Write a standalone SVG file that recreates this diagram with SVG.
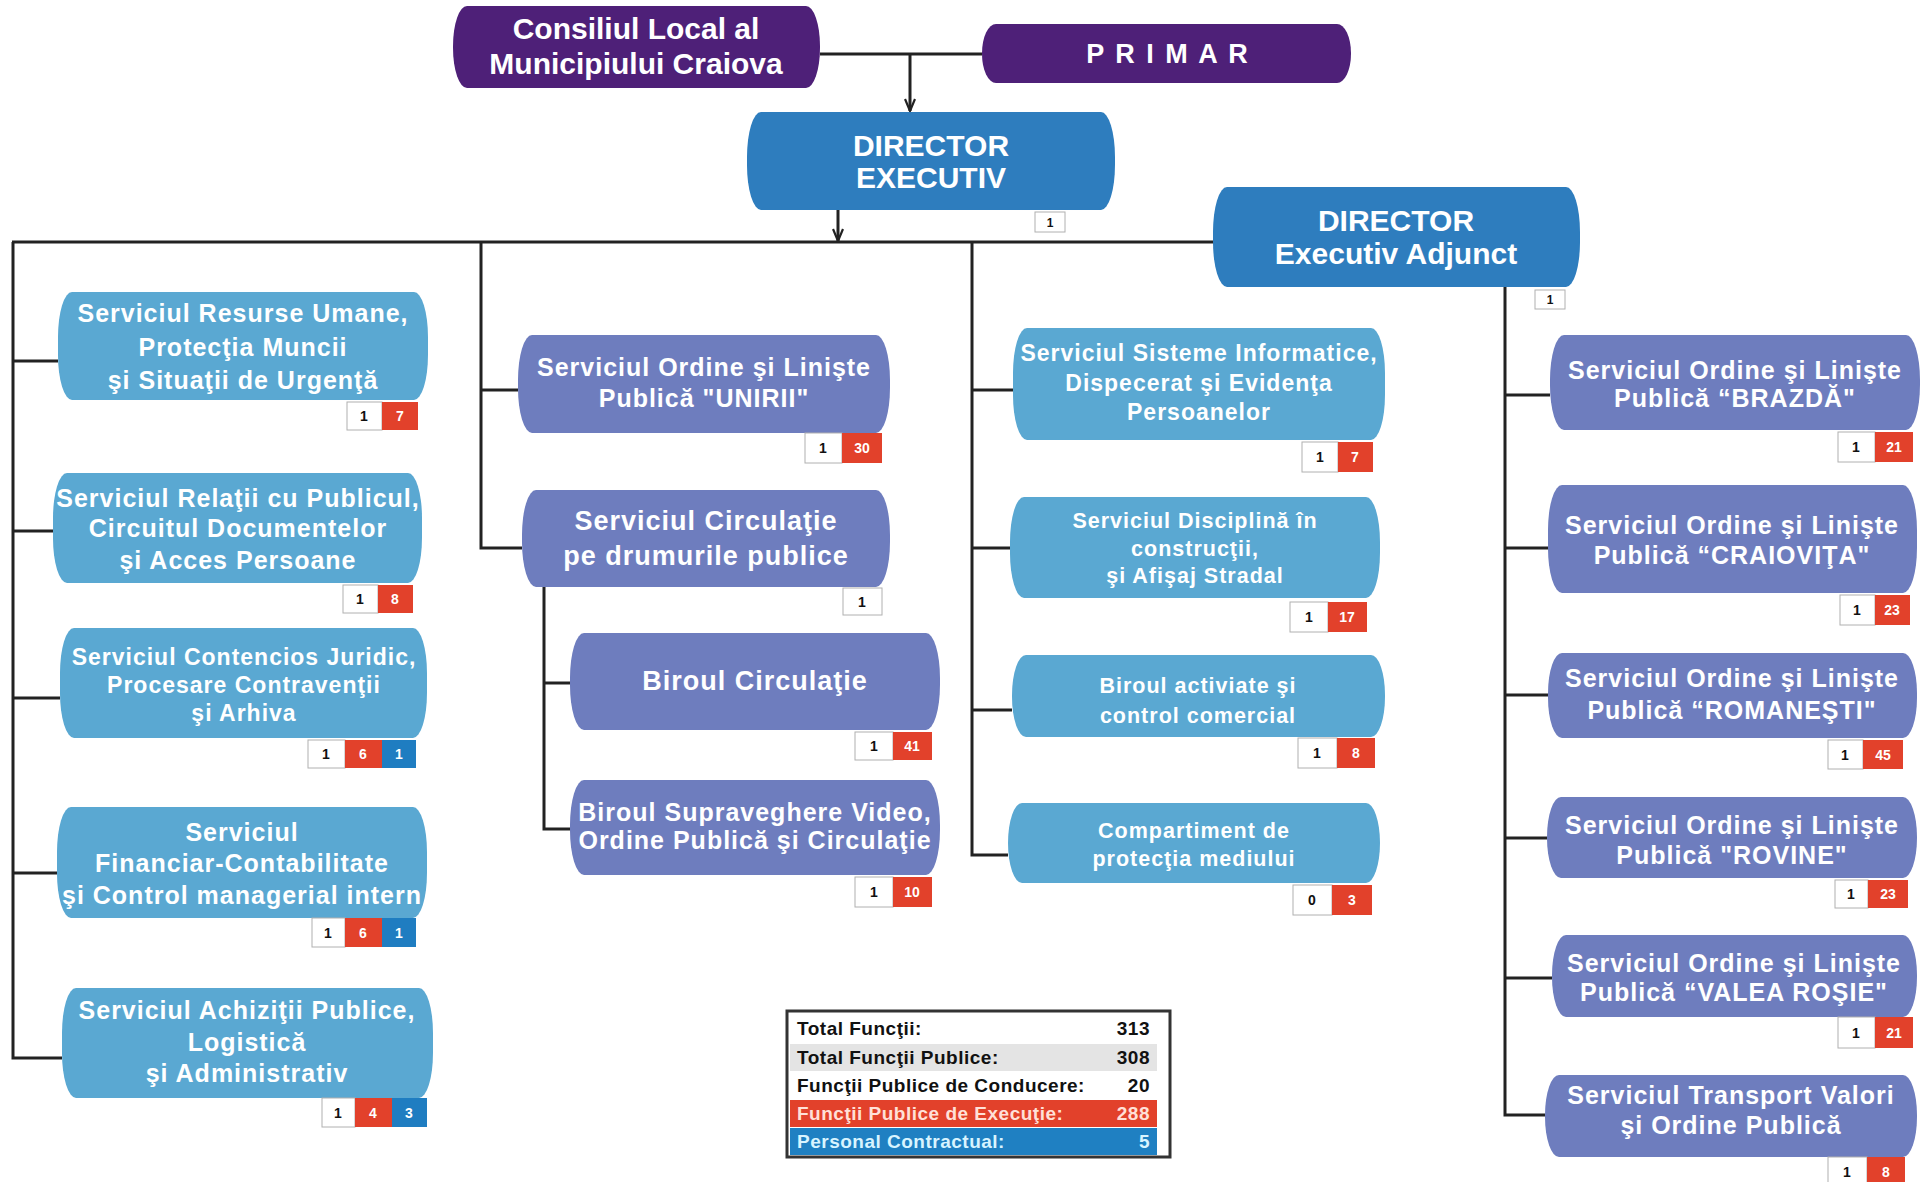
<svg xmlns="http://www.w3.org/2000/svg" width="1926" height="1182" viewBox="0 0 1926 1182">
<defs>
<marker id="arr" viewBox="0 0 14 12" refX="13" refY="6" markerWidth="14" markerHeight="12" markerUnits="userSpaceOnUse" orient="auto">
<path d="M1,1 L13,6 L1,11" fill="none" stroke="#222" stroke-width="2.2"/>
</marker>
</defs>
<style>
.bg{fill:#fff}
.pu{fill:#4E2078}
.db{fill:#2E7DBE}
.lb{fill:#5AA8D2}
.pb{fill:#6E7DBE}
.ln{stroke:#222;stroke-width:3;fill:none}
.t{font-family:"Liberation Sans",Arial,sans-serif;font-weight:bold;fill:#fff;text-anchor:middle}
.f30{font-size:30px}
.f27{font-size:27px;letter-spacing:1px}
.f25{font-size:25px;letter-spacing:1px}
.f23{font-size:23px;letter-spacing:1px}
.f21{font-size:21.5px;letter-spacing:1px}
.bw{fill:#fff;stroke:#b0b0b0;stroke-width:1}
.br{fill:#E2412B}
.bb{fill:#1F7DC1}
.bt{font-family:"Liberation Sans",Arial,sans-serif;font-weight:bold;font-size:14px;text-anchor:middle;fill:#111}
.bv{font-family:"Liberation Sans",Arial,sans-serif;font-weight:bold;font-size:14px;text-anchor:middle;fill:#fff}
.lg{font-family:"Liberation Sans",Arial,sans-serif;font-weight:bold;font-size:19px;letter-spacing:0.5px;fill:#111}
.lv{text-anchor:end}
</style>
<rect class="bg" x="0" y="0" width="1926" height="1182"/>

<g id="connectors">
<line class="ln" x1="820" y1="54" x2="982" y2="54"/>
<line class="ln" x1="910" y1="54" x2="910" y2="111" marker-end="url(#arr)"/>
<line class="ln" x1="838" y1="210" x2="838" y2="241" marker-end="url(#arr)"/>
<line class="ln" x1="12" y1="242" x2="1214" y2="242"/>
<polyline class="ln" points="13,242 13,1058 62,1058"/>
<line class="ln" x1="13" y1="361" x2="58" y2="361"/>
<line class="ln" x1="13" y1="531" x2="53" y2="531"/>
<line class="ln" x1="13" y1="698" x2="60" y2="698"/>
<line class="ln" x1="13" y1="873" x2="57" y2="873"/>
<polyline class="ln" points="481,242 481,548 522,548"/>
<line class="ln" x1="481" y1="390" x2="518" y2="390"/>
<polyline class="ln" points="544,587 544,829 570,829"/>
<line class="ln" x1="544" y1="683" x2="570" y2="683"/>
<polyline class="ln" points="972,242 972,855 1008,855"/>
<line class="ln" x1="972" y1="390" x2="1013" y2="390"/>
<line class="ln" x1="972" y1="548" x2="1010" y2="548"/>
<line class="ln" x1="972" y1="710" x2="1012" y2="710"/>
<polyline class="ln" points="1505,287 1505,1115 1545,1115"/>
<line class="ln" x1="1505" y1="395" x2="1550" y2="395"/>
<line class="ln" x1="1505" y1="548" x2="1548" y2="548"/>
<line class="ln" x1="1505" y1="695" x2="1548" y2="695"/>
<line class="ln" x1="1505" y1="838" x2="1547" y2="838"/>
<line class="ln" x1="1505" y1="978" x2="1552" y2="978"/>
</g>

<g id="consiliul">
<rect class="pu" x="453" y="6" width="367" height="82" rx="14" ry="40"/>
<text class="t f30" x="636" y="39">Consiliul Local al</text>
<text class="t f30" x="636" y="74">Municipiului Craiova</text>
</g>
<g id="primar">
<rect class="pu" x="982" y="24" width="369" height="59" rx="14" ry="29"/>
<text class="t" x="1168" y="63" style="font-size:27px;letter-spacing:2px">P R I M A R</text>
</g>
<g id="director-executiv">
<rect class="db" x="747" y="112" width="368" height="98" rx="14" ry="45"/>
<text class="t f30" x="931" y="156">DIRECTOR</text>
<text class="t f30" x="931" y="188">EXECUTIV</text>
<rect class="bw" x="1035" y="212" width="30" height="20"/>
<text class="bt" x="1050" y="227" style="font-size:12px">1</text>
</g>
<g id="director-adjunct">
<rect class="db" x="1213" y="187" width="367" height="100" rx="14" ry="45"/>
<text class="t f30" x="1396" y="231">DIRECTOR</text>
<text class="t f30" x="1396" y="264">Executiv Adjunct</text>
<rect class="bw" x="1535" y="290" width="30" height="19"/>
<text class="bt" x="1550" y="304" style="font-size:12px">1</text>
</g>

<g id="resurse-umane">
<rect class="lb" x="58" y="292" width="370" height="108" rx="14" ry="45"/>
<text class="t f25" x="243" y="322">Serviciul Resurse Umane,</text>
<text class="t f25" x="243" y="356">Protecţia Muncii</text>
<text class="t f25" x="243" y="389">şi Situaţii de Urgenţă</text>
<rect class="bw" x="347" y="402" width="35" height="28"/><text class="bt" x="364" y="421">1</text>
<rect class="br" x="382" y="402" width="36" height="28"/><text class="bv" x="400" y="421">7</text>
</g>
<g id="relatii-public">
<rect class="lb" x="53" y="473" width="369" height="110" rx="14" ry="45"/>
<text class="t f25" x="238" y="507">Serviciul Relaţii cu Publicul,</text>
<text class="t f25" x="238" y="537">Circuitul Documentelor</text>
<text class="t f25" x="238" y="569">şi Acces Persoane</text>
<rect class="bw" x="343" y="585" width="35" height="28"/><text class="bt" x="360" y="604">1</text>
<rect class="br" x="378" y="585" width="35" height="28"/><text class="bv" x="395" y="604">8</text>
</g>
<g id="contencios">
<rect class="lb" x="60" y="628" width="367" height="110" rx="14" ry="45"/>
<text class="t f23" x="244" y="665">Serviciul Contencios Juridic,</text>
<text class="t f23" x="244" y="693">Procesare Contravenţii</text>
<text class="t f23" x="244" y="721">şi Arhiva</text>
<rect class="bw" x="308" y="740" width="37" height="28"/><text class="bt" x="326" y="759">1</text>
<rect class="br" x="345" y="740" width="37" height="28"/><text class="bv" x="363" y="759">6</text>
<rect class="bb" x="382" y="740" width="34" height="28"/><text class="bv" x="399" y="759">1</text>
</g>
<g id="financiar">
<rect class="lb" x="57" y="807" width="370" height="111" rx="14" ry="45"/>
<text class="t f25" x="242" y="841">Serviciul</text>
<text class="t f25" x="242" y="872">Financiar-Contabilitate</text>
<text class="t f25" x="242" y="904">şi Control managerial intern</text>
<rect class="bw" x="312" y="918" width="33" height="29"/><text class="bt" x="328" y="938">1</text>
<rect class="br" x="345" y="918" width="37" height="29"/><text class="bv" x="363" y="938">6</text>
<rect class="bb" x="382" y="918" width="34" height="29"/><text class="bv" x="399" y="938">1</text>
</g>
<g id="achizitii">
<rect class="lb" x="62" y="988" width="371" height="110" rx="14" ry="45"/>
<text class="t f25" x="247" y="1019">Serviciul Achiziţii Publice,</text>
<text class="t f25" x="247" y="1051">Logistică</text>
<text class="t f25" x="247" y="1082">şi Administrativ</text>
<rect class="bw" x="322" y="1098" width="33" height="29"/><text class="bt" x="338" y="1118">1</text>
<rect class="br" x="355" y="1098" width="37" height="29"/><text class="bv" x="373" y="1118">4</text>
<rect class="bb" x="392" y="1098" width="35" height="29"/><text class="bv" x="409" y="1118">3</text>
</g>

<g id="unirii">
<rect class="pb" x="518" y="335" width="372" height="98" rx="14" ry="45"/>
<text class="t f25" x="704" y="376">Serviciul Ordine şi Linişte</text>
<text class="t f25" x="704" y="407">Publică "UNIRII"</text>
<rect class="bw" x="805" y="433" width="37" height="30"/><text class="bt" x="823" y="453">1</text>
<rect class="br" x="842" y="433" width="40" height="30"/><text class="bv" x="862" y="453">30</text>
</g>
<g id="circulatie">
<rect class="pb" x="522" y="490" width="368" height="97" rx="14" ry="45"/>
<text class="t f27" x="706" y="530">Serviciul Circulaţie</text>
<text class="t f27" x="706" y="565">pe drumurile publice</text>
<rect class="bw" x="843" y="588" width="39" height="27"/><text class="bt" x="862" y="607">1</text>
</g>
<g id="biroul-circulatie">
<rect class="pb" x="570" y="633" width="370" height="97" rx="14" ry="45"/>
<text class="t f27" x="755" y="690">Biroul Circulaţie</text>
<rect class="bw" x="855" y="732" width="38" height="28"/><text class="bt" x="874" y="751">1</text>
<rect class="br" x="893" y="732" width="39" height="28"/><text class="bv" x="912" y="751">41</text>
</g>
<g id="supraveghere">
<rect class="pb" x="570" y="780" width="370" height="95" rx="14" ry="45"/>
<text class="t f25" x="755" y="821">Biroul Supraveghere Video,</text>
<text class="t f25" x="755" y="849">Ordine Publică şi Circulaţie</text>
<rect class="bw" x="855" y="877" width="38" height="30"/><text class="bt" x="874" y="897">1</text>
<rect class="br" x="893" y="877" width="39" height="30"/><text class="bv" x="912" y="897">10</text>
</g>

<g id="sisteme">
<rect class="lb" x="1013" y="328" width="372" height="112" rx="14" ry="45"/>
<text class="t f23" x="1199" y="361">Serviciul Sisteme Informatice,</text>
<text class="t f23" x="1199" y="391">Dispecerat şi Evidenţa</text>
<text class="t f23" x="1199" y="420">Persoanelor</text>
<rect class="bw" x="1302" y="442" width="36" height="30"/><text class="bt" x="1320" y="462">1</text>
<rect class="br" x="1338" y="442" width="35" height="30"/><text class="bv" x="1355" y="462">7</text>
</g>
<g id="disciplina">
<rect class="lb" x="1010" y="497" width="370" height="101" rx="14" ry="45"/>
<text class="t f21" x="1195" y="528">Serviciul Disciplină în</text>
<text class="t f21" x="1195" y="556">construcţii,</text>
<text class="t f21" x="1195" y="583">şi Afişaj Stradal</text>
<rect class="bw" x="1290" y="602" width="38" height="30"/><text class="bt" x="1309" y="622">1</text>
<rect class="br" x="1328" y="602" width="39" height="30"/><text class="bv" x="1347" y="622">17</text>
</g>
<g id="biroul-activitate">
<rect class="lb" x="1012" y="655" width="373" height="82" rx="14" ry="40"/>
<text class="t f21" x="1198" y="693">Biroul activiate şi</text>
<text class="t f21" x="1198" y="723">control comercial</text>
<rect class="bw" x="1298" y="738" width="39" height="30"/><text class="bt" x="1317" y="758">1</text>
<rect class="br" x="1337" y="738" width="38" height="30"/><text class="bv" x="1356" y="758">8</text>
</g>
<g id="compartiment">
<rect class="lb" x="1008" y="803" width="372" height="80" rx="14" ry="40"/>
<text class="t f21" x="1194" y="838">Compartiment de</text>
<text class="t f21" x="1194" y="866">protecţia mediului</text>
<rect class="bw" x="1293" y="885" width="39" height="30"/><text class="bt" x="1312" y="905">0</text>
<rect class="br" x="1332" y="885" width="40" height="30"/><text class="bv" x="1352" y="905">3</text>
</g>

<g id="brazda">
<rect class="pb" x="1550" y="335" width="370" height="95" rx="14" ry="45"/>
<text class="t f25" x="1735" y="379">Serviciul Ordine şi Linişte</text>
<text class="t f25" x="1735" y="407">Publică “BRAZDĂ"</text>
<rect class="bw" x="1838" y="432" width="37" height="30"/><text class="bt" x="1856" y="452">1</text>
<rect class="br" x="1875" y="432" width="38" height="30"/><text class="bv" x="1894" y="452">21</text>
</g>
<g id="craiovita">
<rect class="pb" x="1548" y="485" width="369" height="108" rx="14" ry="45"/>
<text class="t f25" x="1732" y="534">Serviciul Ordine şi Linişte</text>
<text class="t f25" x="1732" y="564">Publică “CRAIOVIŢA"</text>
<rect class="bw" x="1840" y="595" width="35" height="30"/><text class="bt" x="1857" y="615">1</text>
<rect class="br" x="1875" y="595" width="35" height="30"/><text class="bv" x="1892" y="615">23</text>
</g>
<g id="romanesti">
<rect class="pb" x="1548" y="653" width="369" height="85" rx="14" ry="40"/>
<text class="t f25" x="1732" y="687">Serviciul Ordine şi Linişte</text>
<text class="t f25" x="1732" y="719">Publică “ROMANEŞTI"</text>
<rect class="bw" x="1828" y="740" width="35" height="29"/><text class="bt" x="1845" y="760">1</text>
<rect class="br" x="1863" y="740" width="40" height="29"/><text class="bv" x="1883" y="760">45</text>
</g>
<g id="rovine">
<rect class="pb" x="1547" y="797" width="370" height="81" rx="14" ry="40"/>
<text class="t f25" x="1732" y="834">Serviciul Ordine şi Linişte</text>
<text class="t f25" x="1732" y="864">Publică "ROVINE"</text>
<rect class="bw" x="1835" y="880" width="33" height="28"/><text class="bt" x="1851" y="899">1</text>
<rect class="br" x="1868" y="880" width="40" height="28"/><text class="bv" x="1888" y="899">23</text>
</g>
<g id="valea-rosie">
<rect class="pb" x="1552" y="935" width="365" height="82" rx="14" ry="40"/>
<text class="t f25" x="1734" y="972">Serviciul Ordine şi Linişte</text>
<text class="t f25" x="1734" y="1001">Publică “VALEA ROŞIE"</text>
<rect class="bw" x="1838" y="1017" width="37" height="31"/><text class="bt" x="1856" y="1038">1</text>
<rect class="br" x="1875" y="1017" width="38" height="31"/><text class="bv" x="1894" y="1038">21</text>
</g>
<g id="transport">
<rect class="pb" x="1545" y="1075" width="372" height="82" rx="14" ry="40"/>
<text class="t f25" x="1731" y="1104">Serviciul Transport Valori</text>
<text class="t f25" x="1731" y="1134">şi Ordine Publică</text>
<rect class="bw" x="1828" y="1157" width="39" height="29"/><text class="bt" x="1847" y="1177">1</text>
<rect class="br" x="1867" y="1157" width="38" height="29"/><text class="bv" x="1886" y="1177">8</text>
</g>

<g id="legend">
<rect x="787" y="1011" width="383" height="146" fill="#fff" stroke="#333" stroke-width="3"/>
<rect x="790" y="1044" width="367" height="27" fill="#e4e4e4"/>
<rect x="790" y="1100" width="367" height="27" fill="#E2412B"/>
<rect x="790" y="1128" width="367" height="27" fill="#1F80C2"/>
<text class="lg" x="797" y="1035">Total Funcţii:</text>
<text class="lg lv" x="1150" y="1035">313</text>
<text class="lg" x="797" y="1064">Total Funcţii Publice:</text>
<text class="lg lv" x="1150" y="1064">308</text>
<text class="lg" x="797" y="1092">Funcţii Publice de Conducere:</text>
<text class="lg lv" x="1150" y="1092">20</text>
<text class="lg" x="797" y="1120" style="fill:#FFE0D8">Funcţii Publice de Execuţie:</text>
<text class="lg lv" x="1150" y="1120" style="fill:#FFE0D8">288</text>
<text class="lg" x="797" y="1148" style="fill:#D8F4FF">Personal Contractual:</text>
<text class="lg lv" x="1150" y="1148" style="fill:#D8F4FF">5</text>
</g>
</svg>
